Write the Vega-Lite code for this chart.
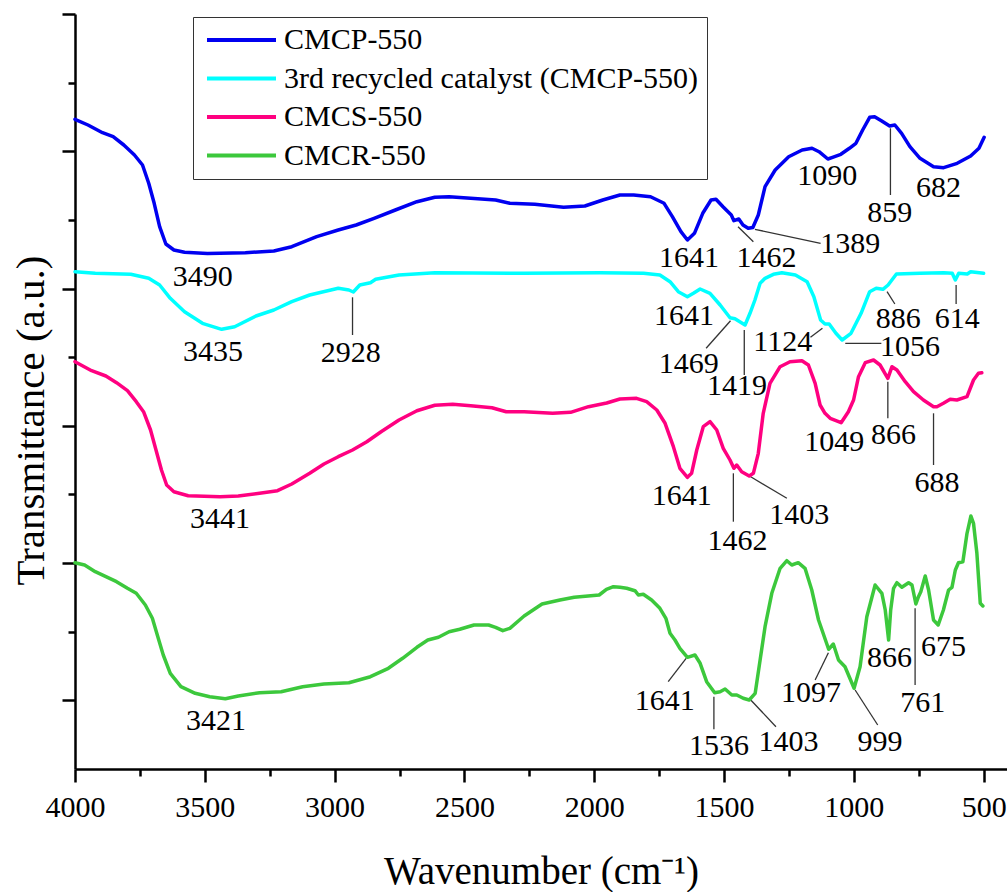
{
  "$schema": "https://vega.github.io/schema/vega-lite/v6.json",
  "width": 932,
  "height": 755,
  "autosize": {"type": "none"},
  "padding": {"left": 75, "top": 14, "right": 0, "bottom": 123},
  "background": "white",
  "config": {"view": {"stroke": null}, "font": "Liberation Serif"},
  "datasets": {
    "spectra": [
      {"sample": "CMCP-550", "wn": 4000, "T": 649.7}, {"sample": "CMCP-550", "wn": 3950, "T": 644}, {"sample": "CMCP-550", "wn": 3894, "T": 636.3}, {"sample": "CMCP-550", "wn": 3853, "T": 632.3}, {"sample": "CMCP-550", "wn": 3812, "T": 624}, {"sample": "CMCP-550", "wn": 3771, "T": 614}, {"sample": "CMCP-550", "wn": 3740, "T": 604}, {"sample": "CMCP-550", "wn": 3716, "T": 585.7}, {"sample": "CMCP-550", "wn": 3695, "T": 565.7}, {"sample": "CMCP-550", "wn": 3674, "T": 542.3}, {"sample": "CMCP-550", "wn": 3650, "T": 525}, {"sample": "CMCP-550", "wn": 3619, "T": 519}, {"sample": "CMCP-550", "wn": 3578, "T": 516.7}, {"sample": "CMCP-550", "wn": 3490, "T": 515.5}, {"sample": "CMCP-550", "wn": 3344, "T": 516.3}, {"sample": "CMCP-550", "wn": 3234, "T": 518}, {"sample": "CMCP-550", "wn": 3165, "T": 522.3}, {"sample": "CMCP-550", "wn": 3069, "T": 532.3}, {"sample": "CMCP-550", "wn": 2986, "T": 539}, {"sample": "CMCP-550", "wn": 2917, "T": 544}, {"sample": "CMCP-550", "wn": 2848, "T": 550.7}, {"sample": "CMCP-550", "wn": 2766, "T": 559}, {"sample": "CMCP-550", "wn": 2683, "T": 567.3}, {"sample": "CMCP-550", "wn": 2614, "T": 571.7}, {"sample": "CMCP-550", "wn": 2559, "T": 572.3}, {"sample": "CMCP-550", "wn": 2476, "T": 570.7}, {"sample": "CMCP-550", "wn": 2380, "T": 569}, {"sample": "CMCP-550", "wn": 2325, "T": 565.7}, {"sample": "CMCP-550", "wn": 2229, "T": 564.7}, {"sample": "CMCP-550", "wn": 2118, "T": 561.7}, {"sample": "CMCP-550", "wn": 2036, "T": 563}, {"sample": "CMCP-550", "wn": 1967, "T": 569}, {"sample": "CMCP-550", "wn": 1901, "T": 574}, {"sample": "CMCP-550", "wn": 1848, "T": 574}, {"sample": "CMCP-550", "wn": 1783, "T": 572.3}, {"sample": "CMCP-550", "wn": 1731, "T": 565.7}, {"sample": "CMCP-550", "wn": 1699, "T": 552.3}, {"sample": "CMCP-550", "wn": 1666, "T": 537.3}, {"sample": "CMCP-550", "wn": 1641, "T": 529}, {"sample": "CMCP-550", "wn": 1614, "T": 535.7}, {"sample": "CMCP-550", "wn": 1582, "T": 555.7}, {"sample": "CMCP-550", "wn": 1550, "T": 569}, {"sample": "CMCP-550", "wn": 1531, "T": 569.7}, {"sample": "CMCP-550", "wn": 1504, "T": 562.3}, {"sample": "CMCP-550", "wn": 1472, "T": 554}, {"sample": "CMCP-550", "wn": 1462, "T": 548.3}, {"sample": "CMCP-550", "wn": 1443, "T": 550}, {"sample": "CMCP-550", "wn": 1427, "T": 544}, {"sample": "CMCP-550", "wn": 1407, "T": 540.7}, {"sample": "CMCP-550", "wn": 1389, "T": 541.5}, {"sample": "CMCP-550", "wn": 1368, "T": 554}, {"sample": "CMCP-550", "wn": 1342, "T": 582.3}, {"sample": "CMCP-550", "wn": 1303, "T": 599}, {"sample": "CMCP-550", "wn": 1251, "T": 612.3}, {"sample": "CMCP-550", "wn": 1199, "T": 619}, {"sample": "CMCP-550", "wn": 1161, "T": 620.7}, {"sample": "CMCP-550", "wn": 1134, "T": 617.3}, {"sample": "CMCP-550", "wn": 1100, "T": 610}, {"sample": "CMCP-550", "wn": 1082, "T": 611.7}, {"sample": "CMCP-550", "wn": 1050, "T": 614.7}, {"sample": "CMCP-550", "wn": 1017, "T": 620.7}, {"sample": "CMCP-550", "wn": 992, "T": 625.7}, {"sample": "CMCP-550", "wn": 966, "T": 639}, {"sample": "CMCP-550", "wn": 939, "T": 651.7}, {"sample": "CMCP-550", "wn": 920, "T": 652.3}, {"sample": "CMCP-550", "wn": 894, "T": 648.3}, {"sample": "CMCP-550", "wn": 862, "T": 643}, {"sample": "CMCP-550", "wn": 842, "T": 644}, {"sample": "CMCP-550", "wn": 816, "T": 635.7}, {"sample": "CMCP-550", "wn": 784, "T": 622.3}, {"sample": "CMCP-550", "wn": 745, "T": 610.7}, {"sample": "CMCP-550", "wn": 693, "T": 602.3}, {"sample": "CMCP-550", "wn": 654, "T": 601.3}, {"sample": "CMCP-550", "wn": 602, "T": 605.7}, {"sample": "CMCP-550", "wn": 550, "T": 613}, {"sample": "CMCP-550", "wn": 518, "T": 620.7}, {"sample": "CMCP-550", "wn": 498, "T": 631.7},

      {"sample": "3rd recycled catalyst (CMCP-550)", "wn": 4000, "T": 497.3}, {"sample": "3rd recycled catalyst (CMCP-550)", "wn": 3922, "T": 495.7}, {"sample": "3rd recycled catalyst (CMCP-550)", "wn": 3785, "T": 494.7}, {"sample": "3rd recycled catalyst (CMCP-550)", "wn": 3716, "T": 490.7}, {"sample": "3rd recycled catalyst (CMCP-550)", "wn": 3674, "T": 484}, {"sample": "3rd recycled catalyst (CMCP-550)", "wn": 3633, "T": 470.7}, {"sample": "3rd recycled catalyst (CMCP-550)", "wn": 3578, "T": 457.3}, {"sample": "3rd recycled catalyst (CMCP-550)", "wn": 3509, "T": 445.7}, {"sample": "3rd recycled catalyst (CMCP-550)", "wn": 3435, "T": 439.7}, {"sample": "3rd recycled catalyst (CMCP-550)", "wn": 3385, "T": 442.3}, {"sample": "3rd recycled catalyst (CMCP-550)", "wn": 3303, "T": 453}, {"sample": "3rd recycled catalyst (CMCP-550)", "wn": 3234, "T": 459}, {"sample": "3rd recycled catalyst (CMCP-550)", "wn": 3165, "T": 467.3}, {"sample": "3rd recycled catalyst (CMCP-550)", "wn": 3096, "T": 474}, {"sample": "3rd recycled catalyst (CMCP-550)", "wn": 2986, "T": 480.7}, {"sample": "3rd recycled catalyst (CMCP-550)", "wn": 2945, "T": 479}, {"sample": "3rd recycled catalyst (CMCP-550)", "wn": 2928, "T": 477}, {"sample": "3rd recycled catalyst (CMCP-550)", "wn": 2903, "T": 484}, {"sample": "3rd recycled catalyst (CMCP-550)", "wn": 2862, "T": 486.3}, {"sample": "3rd recycled catalyst (CMCP-550)", "wn": 2842, "T": 489.7}, {"sample": "3rd recycled catalyst (CMCP-550)", "wn": 2752, "T": 494}, {"sample": "3rd recycled catalyst (CMCP-550)", "wn": 2614, "T": 496.3}, {"sample": "3rd recycled catalyst (CMCP-550)", "wn": 2270, "T": 495.7}, {"sample": "3rd recycled catalyst (CMCP-550)", "wn": 1978, "T": 496.3}, {"sample": "3rd recycled catalyst (CMCP-550)", "wn": 1810, "T": 495.7}, {"sample": "3rd recycled catalyst (CMCP-550)", "wn": 1747, "T": 494}, {"sample": "3rd recycled catalyst (CMCP-550)", "wn": 1708, "T": 487.3}, {"sample": "3rd recycled catalyst (CMCP-550)", "wn": 1676, "T": 477.3}, {"sample": "3rd recycled catalyst (CMCP-550)", "wn": 1641, "T": 472.3}, {"sample": "3rd recycled catalyst (CMCP-550)", "wn": 1618, "T": 475.7}, {"sample": "3rd recycled catalyst (CMCP-550)", "wn": 1592, "T": 480}, {"sample": "3rd recycled catalyst (CMCP-550)", "wn": 1554, "T": 475.7}, {"sample": "3rd recycled catalyst (CMCP-550)", "wn": 1515, "T": 464}, {"sample": "3rd recycled catalyst (CMCP-550)", "wn": 1477, "T": 451.3}, {"sample": "3rd recycled catalyst (CMCP-550)", "wn": 1458, "T": 450.3}, {"sample": "3rd recycled catalyst (CMCP-550)", "wn": 1419, "T": 444}, {"sample": "3rd recycled catalyst (CMCP-550)", "wn": 1400, "T": 455.7}, {"sample": "3rd recycled catalyst (CMCP-550)", "wn": 1381, "T": 469}, {"sample": "3rd recycled catalyst (CMCP-550)", "wn": 1361, "T": 485.7}, {"sample": "3rd recycled catalyst (CMCP-550)", "wn": 1342, "T": 490.7}, {"sample": "3rd recycled catalyst (CMCP-550)", "wn": 1310, "T": 494.7}, {"sample": "3rd recycled catalyst (CMCP-550)", "wn": 1277, "T": 496.3}, {"sample": "3rd recycled catalyst (CMCP-550)", "wn": 1225, "T": 494}, {"sample": "3rd recycled catalyst (CMCP-550)", "wn": 1180, "T": 487.3}, {"sample": "3rd recycled catalyst (CMCP-550)", "wn": 1154, "T": 472.3}, {"sample": "3rd recycled catalyst (CMCP-550)", "wn": 1128, "T": 449}, {"sample": "3rd recycled catalyst (CMCP-550)", "wn": 1111, "T": 445}, {"sample": "3rd recycled catalyst (CMCP-550)", "wn": 1095, "T": 445}, {"sample": "3rd recycled catalyst (CMCP-550)", "wn": 1069, "T": 435.7}, {"sample": "3rd recycled catalyst (CMCP-550)", "wn": 1045, "T": 429}, {"sample": "3rd recycled catalyst (CMCP-550)", "wn": 1011, "T": 435.7}, {"sample": "3rd recycled catalyst (CMCP-550)", "wn": 972, "T": 455.7}, {"sample": "3rd recycled catalyst (CMCP-550)", "wn": 939, "T": 477.3}, {"sample": "3rd recycled catalyst (CMCP-550)", "wn": 914, "T": 480.7}, {"sample": "3rd recycled catalyst (CMCP-550)", "wn": 888, "T": 479.7}, {"sample": "3rd recycled catalyst (CMCP-550)", "wn": 868, "T": 484}, {"sample": "3rd recycled catalyst (CMCP-550)", "wn": 836, "T": 495}, {"sample": "3rd recycled catalyst (CMCP-550)", "wn": 745, "T": 495.7}, {"sample": "3rd recycled catalyst (CMCP-550)", "wn": 654, "T": 496.3}, {"sample": "3rd recycled catalyst (CMCP-550)", "wn": 621, "T": 495.7}, {"sample": "3rd recycled catalyst (CMCP-550)", "wn": 609, "T": 489}, {"sample": "3rd recycled catalyst (CMCP-550)", "wn": 596, "T": 495.7}, {"sample": "3rd recycled catalyst (CMCP-550)", "wn": 563, "T": 495}, {"sample": "3rd recycled catalyst (CMCP-550)", "wn": 550, "T": 497.3}, {"sample": "3rd recycled catalyst (CMCP-550)", "wn": 500, "T": 495.7},

      {"sample": "CMCS-550", "wn": 4000, "T": 407.3}, {"sample": "CMCS-550", "wn": 3936, "T": 398.3}, {"sample": "CMCS-550", "wn": 3881, "T": 393}, {"sample": "CMCS-550", "wn": 3840, "T": 386.3}, {"sample": "CMCS-550", "wn": 3798, "T": 378.3}, {"sample": "CMCS-550", "wn": 3764, "T": 367.3}, {"sample": "CMCS-550", "wn": 3736, "T": 357.3}, {"sample": "CMCS-550", "wn": 3709, "T": 339}, {"sample": "CMCS-550", "wn": 3688, "T": 319}, {"sample": "CMCS-550", "wn": 3667, "T": 299}, {"sample": "CMCS-550", "wn": 3647, "T": 284}, {"sample": "CMCS-550", "wn": 3619, "T": 277.3}, {"sample": "CMCS-550", "wn": 3564, "T": 273.3}, {"sample": "CMCS-550", "wn": 3441, "T": 272.3}, {"sample": "CMCS-550", "wn": 3371, "T": 273}, {"sample": "CMCS-550", "wn": 3289, "T": 275.7}, {"sample": "CMCS-550", "wn": 3220, "T": 278.3}, {"sample": "CMCS-550", "wn": 3165, "T": 285}, {"sample": "CMCS-550", "wn": 3096, "T": 295.7}, {"sample": "CMCS-550", "wn": 3041, "T": 305}, {"sample": "CMCS-550", "wn": 2986, "T": 312.3}, {"sample": "CMCS-550", "wn": 2931, "T": 319}, {"sample": "CMCS-550", "wn": 2876, "T": 327.3}, {"sample": "CMCS-550", "wn": 2821, "T": 337.3}, {"sample": "CMCS-550", "wn": 2752, "T": 349}, {"sample": "CMCS-550", "wn": 2683, "T": 358.3}, {"sample": "CMCS-550", "wn": 2614, "T": 363.7}, {"sample": "CMCS-550", "wn": 2545, "T": 364.7}, {"sample": "CMCS-550", "wn": 2476, "T": 363.3}, {"sample": "CMCS-550", "wn": 2394, "T": 361.3}, {"sample": "CMCS-550", "wn": 2339, "T": 357.3}, {"sample": "CMCS-550", "wn": 2270, "T": 357.3}, {"sample": "CMCS-550", "wn": 2160, "T": 355.7}, {"sample": "CMCS-550", "wn": 2091, "T": 356.7}, {"sample": "CMCS-550", "wn": 2022, "T": 362.3}, {"sample": "CMCS-550", "wn": 1952, "T": 366}, {"sample": "CMCS-550", "wn": 1901, "T": 370}, {"sample": "CMCS-550", "wn": 1837, "T": 370.7}, {"sample": "CMCS-550", "wn": 1798, "T": 367.3}, {"sample": "CMCS-550", "wn": 1759, "T": 359}, {"sample": "CMCS-550", "wn": 1727, "T": 345.7}, {"sample": "CMCS-550", "wn": 1695, "T": 322.3}, {"sample": "CMCS-550", "wn": 1670, "T": 300.7}, {"sample": "CMCS-550", "wn": 1641, "T": 291.7}, {"sample": "CMCS-550", "wn": 1625, "T": 295.7}, {"sample": "CMCS-550", "wn": 1605, "T": 319}, {"sample": "CMCS-550", "wn": 1580, "T": 342.3}, {"sample": "CMCS-550", "wn": 1554, "T": 347.3}, {"sample": "CMCS-550", "wn": 1528, "T": 339}, {"sample": "CMCS-550", "wn": 1503, "T": 320.7}, {"sample": "CMCS-550", "wn": 1477, "T": 309}, {"sample": "CMCS-550", "wn": 1462, "T": 300.7}, {"sample": "CMCS-550", "wn": 1451, "T": 304}, {"sample": "CMCS-550", "wn": 1432, "T": 297.3}, {"sample": "CMCS-550", "wn": 1403, "T": 293}, {"sample": "CMCS-550", "wn": 1387, "T": 295.7}, {"sample": "CMCS-550", "wn": 1368, "T": 315.7}, {"sample": "CMCS-550", "wn": 1349, "T": 355.7}, {"sample": "CMCS-550", "wn": 1323, "T": 385.7}, {"sample": "CMCS-550", "wn": 1284, "T": 402.3}, {"sample": "CMCS-550", "wn": 1246, "T": 407.3}, {"sample": "CMCS-550", "wn": 1200, "T": 408.3}, {"sample": "CMCS-550", "wn": 1175, "T": 404}, {"sample": "CMCS-550", "wn": 1149, "T": 385.7}, {"sample": "CMCS-550", "wn": 1130, "T": 364}, {"sample": "CMCS-550", "wn": 1111, "T": 355.7}, {"sample": "CMCS-550", "wn": 1091, "T": 350.7}, {"sample": "CMCS-550", "wn": 1049, "T": 346.3}, {"sample": "CMCS-550", "wn": 1021, "T": 357.3}, {"sample": "CMCS-550", "wn": 1001, "T": 369}, {"sample": "CMCS-550", "wn": 982, "T": 392.3}, {"sample": "CMCS-550", "wn": 956, "T": 406.3}, {"sample": "CMCS-550", "wn": 924, "T": 409}, {"sample": "CMCS-550", "wn": 899, "T": 404}, {"sample": "CMCS-550", "wn": 869, "T": 390.7}, {"sample": "CMCS-550", "wn": 853, "T": 402.3}, {"sample": "CMCS-550", "wn": 834, "T": 399}, {"sample": "CMCS-550", "wn": 802, "T": 387.3}, {"sample": "CMCS-550", "wn": 770, "T": 377.3}, {"sample": "CMCS-550", "wn": 732, "T": 369}, {"sample": "CMCS-550", "wn": 693, "T": 362.3}, {"sample": "CMCS-550", "wn": 680, "T": 362.3}, {"sample": "CMCS-550", "wn": 655, "T": 365.7}, {"sample": "CMCS-550", "wn": 629, "T": 369.7}, {"sample": "CMCS-550", "wn": 603, "T": 369}, {"sample": "CMCS-550", "wn": 564, "T": 372.3}, {"sample": "CMCS-550", "wn": 539, "T": 389}, {"sample": "CMCS-550", "wn": 520, "T": 395.7}, {"sample": "CMCS-550", "wn": 507, "T": 396.3},

      {"sample": "CMCR-550", "wn": 4000, "T": 206.3}, {"sample": "CMCR-550", "wn": 3963, "T": 204}, {"sample": "CMCR-550", "wn": 3922, "T": 197.3}, {"sample": "CMCR-550", "wn": 3881, "T": 192.3}, {"sample": "CMCR-550", "wn": 3840, "T": 187.3}, {"sample": "CMCR-550", "wn": 3798, "T": 180.7}, {"sample": "CMCR-550", "wn": 3764, "T": 175.7}, {"sample": "CMCR-550", "wn": 3729, "T": 164}, {"sample": "CMCR-550", "wn": 3702, "T": 150.7}, {"sample": "CMCR-550", "wn": 3681, "T": 132.3}, {"sample": "CMCR-550", "wn": 3660, "T": 114}, {"sample": "CMCR-550", "wn": 3633, "T": 95.7}, {"sample": "CMCR-550", "wn": 3592, "T": 82.3}, {"sample": "CMCR-550", "wn": 3537, "T": 75.7}, {"sample": "CMCR-550", "wn": 3481, "T": 72.3}, {"sample": "CMCR-550", "wn": 3421, "T": 70.3}, {"sample": "CMCR-550", "wn": 3371, "T": 73}, {"sample": "CMCR-550", "wn": 3289, "T": 76.3}, {"sample": "CMCR-550", "wn": 3206, "T": 77.3}, {"sample": "CMCR-550", "wn": 3123, "T": 82.3}, {"sample": "CMCR-550", "wn": 3041, "T": 85}, {"sample": "CMCR-550", "wn": 2945, "T": 86.3}, {"sample": "CMCR-550", "wn": 2862, "T": 92.3}, {"sample": "CMCR-550", "wn": 2793, "T": 100.7}, {"sample": "CMCR-550", "wn": 2738, "T": 110.7}, {"sample": "CMCR-550", "wn": 2683, "T": 121.7}, {"sample": "CMCR-550", "wn": 2641, "T": 129}, {"sample": "CMCR-550", "wn": 2600, "T": 131.7}, {"sample": "CMCR-550", "wn": 2559, "T": 137.3}, {"sample": "CMCR-550", "wn": 2518, "T": 139.7}, {"sample": "CMCR-550", "wn": 2463, "T": 144}, {"sample": "CMCR-550", "wn": 2407, "T": 144}, {"sample": "CMCR-550", "wn": 2380, "T": 141.7}, {"sample": "CMCR-550", "wn": 2352, "T": 138.3}, {"sample": "CMCR-550", "wn": 2325, "T": 140.7}, {"sample": "CMCR-550", "wn": 2270, "T": 153}, {"sample": "CMCR-550", "wn": 2201, "T": 165}, {"sample": "CMCR-550", "wn": 2132, "T": 169}, {"sample": "CMCR-550", "wn": 2077, "T": 171.7}, {"sample": "CMCR-550", "wn": 1981, "T": 174}, {"sample": "CMCR-550", "wn": 1953, "T": 179.7}, {"sample": "CMCR-550", "wn": 1926, "T": 182.3}, {"sample": "CMCR-550", "wn": 1901, "T": 181.7}, {"sample": "CMCR-550", "wn": 1875, "T": 180.7}, {"sample": "CMCR-550", "wn": 1843, "T": 178.3}, {"sample": "CMCR-550", "wn": 1830, "T": 174}, {"sample": "CMCR-550", "wn": 1811, "T": 174.7}, {"sample": "CMCR-550", "wn": 1779, "T": 169}, {"sample": "CMCR-550", "wn": 1747, "T": 160.7}, {"sample": "CMCR-550", "wn": 1724, "T": 150.7}, {"sample": "CMCR-550", "wn": 1708, "T": 135.7}, {"sample": "CMCR-550", "wn": 1689, "T": 129}, {"sample": "CMCR-550", "wn": 1670, "T": 120.7}, {"sample": "CMCR-550", "wn": 1641, "T": 111.7}, {"sample": "CMCR-550", "wn": 1612, "T": 114}, {"sample": "CMCR-550", "wn": 1592, "T": 105.7}, {"sample": "CMCR-550", "wn": 1567, "T": 87.3}, {"sample": "CMCR-550", "wn": 1536, "T": 76.3}, {"sample": "CMCR-550", "wn": 1515, "T": 77.3}, {"sample": "CMCR-550", "wn": 1496, "T": 80}, {"sample": "CMCR-550", "wn": 1470, "T": 74}, {"sample": "CMCR-550", "wn": 1451, "T": 74}, {"sample": "CMCR-550", "wn": 1426, "T": 70.7}, {"sample": "CMCR-550", "wn": 1403, "T": 69}, {"sample": "CMCR-550", "wn": 1380, "T": 75.7}, {"sample": "CMCR-550", "wn": 1361, "T": 109}, {"sample": "CMCR-550", "wn": 1342, "T": 142.3}, {"sample": "CMCR-550", "wn": 1316, "T": 175.7}, {"sample": "CMCR-550", "wn": 1284, "T": 200.7}, {"sample": "CMCR-550", "wn": 1258, "T": 208.3}, {"sample": "CMCR-550", "wn": 1239, "T": 204}, {"sample": "CMCR-550", "wn": 1214, "T": 206.3}, {"sample": "CMCR-550", "wn": 1188, "T": 200.7}, {"sample": "CMCR-550", "wn": 1162, "T": 179}, {"sample": "CMCR-550", "wn": 1136, "T": 149}, {"sample": "CMCR-550", "wn": 1097, "T": 119.7}, {"sample": "CMCR-550", "wn": 1079, "T": 125}, {"sample": "CMCR-550", "wn": 1059, "T": 109}, {"sample": "CMCR-550", "wn": 1034, "T": 102.3}, {"sample": "CMCR-550", "wn": 999, "T": 80.7}, {"sample": "CMCR-550", "wn": 976, "T": 102.3}, {"sample": "CMCR-550", "wn": 950, "T": 152.3}, {"sample": "CMCR-550", "wn": 918, "T": 184}, {"sample": "CMCR-550", "wn": 892, "T": 175.7}, {"sample": "CMCR-550", "wn": 879, "T": 159}, {"sample": "CMCR-550", "wn": 866, "T": 129}, {"sample": "CMCR-550", "wn": 858, "T": 159}, {"sample": "CMCR-550", "wn": 847, "T": 180.7}, {"sample": "CMCR-550", "wn": 834, "T": 186.3}, {"sample": "CMCR-550", "wn": 815, "T": 181.7}, {"sample": "CMCR-550", "wn": 789, "T": 186.3}, {"sample": "CMCR-550", "wn": 776, "T": 184}, {"sample": "CMCR-550", "wn": 761, "T": 165}, {"sample": "CMCR-550", "wn": 751, "T": 172.3}, {"sample": "CMCR-550", "wn": 742, "T": 177.3}, {"sample": "CMCR-550", "wn": 725, "T": 193}, {"sample": "CMCR-550", "wn": 712, "T": 179}, {"sample": "CMCR-550", "wn": 693, "T": 149}, {"sample": "CMCR-550", "wn": 675, "T": 144}, {"sample": "CMCR-550", "wn": 655, "T": 159}, {"sample": "CMCR-550", "wn": 635, "T": 179}, {"sample": "CMCR-550", "wn": 622, "T": 181.7}, {"sample": "CMCR-550", "wn": 609, "T": 199}, {"sample": "CMCR-550", "wn": 597, "T": 206.3}, {"sample": "CMCR-550", "wn": 580, "T": 207.3}, {"sample": "CMCR-550", "wn": 564, "T": 235.7}, {"sample": "CMCR-550", "wn": 549, "T": 253}, {"sample": "CMCR-550", "wn": 539, "T": 245.7}, {"sample": "CMCR-550", "wn": 526, "T": 215.7}, {"sample": "CMCR-550", "wn": 513, "T": 165.7}, {"sample": "CMCR-550", "wn": 503, "T": 163}
    ],
    "peaks": [
      {"label": "3490", "wn": 3508, "T": 492}, {"label": "1641", "wn": 1635, "T": 511.5}, {"label": "1462", "wn": 1336, "T": 511.5}, {"label": "1389", "wn": 1014, "T": 525}, {"label": "1090", "wn": 1102, "T": 593}, {"label": "859", "wn": 862, "T": 556.5}, {"label": "682", "wn": 674, "T": 581.5},
      {"label": "3435", "wn": 3468, "T": 417}, {"label": "2928", "wn": 2938, "T": 416}, {"label": "1641", "wn": 1654, "T": 453}, {"label": "1469", "wn": 1636, "T": 405}, {"label": "1419", "wn": 1450, "T": 383}, {"label": "1124", "wn": 1274, "T": 427.3}, {"label": "1056", "wn": 784, "T": 422.3}, {"label": "886", "wn": 829, "T": 449.8}, {"label": "614", "wn": 602, "T": 449.8},
      {"label": "3441", "wn": 3441, "T": 250}, {"label": "1641", "wn": 1663, "T": 273}, {"label": "1462", "wn": 1448, "T": 228}, {"label": "1403", "wn": 1210, "T": 254}, {"label": "1049", "wn": 1075, "T": 327.3}, {"label": "866", "wn": 847, "T": 334}, {"label": "688", "wn": 680, "T": 286.5},
      {"label": "3421", "wn": 3457, "T": 48.2}, {"label": "1641", "wn": 1728, "T": 68.2}, {"label": "1536", "wn": 1519, "T": 23.2}, {"label": "1403", "wn": 1252, "T": 27.3}, {"label": "1097", "wn": 1165, "T": 76.5}, {"label": "999", "wn": 899, "T": 27.3}, {"label": "866", "wn": 863, "T": 111.5}, {"label": "761", "wn": 735, "T": 66.5}, {"label": "675", "wn": 655, "T": 122.3}
    ],
    "leaders": [
      {"wn": 1446, "T": 542.3, "wn2": 1387, "T2": 527.3}, {"wn": 1381, "T": 539.7, "wn2": 1128, "T2": 525.7}, {"wn": 859, "T": 640.7, "wn2": 859, "T2": 574},
      {"wn": 2931, "T": 471.7, "wn2": 2931, "T2": 434}, {"wn": 1569, "T": 420.7, "wn2": 1475, "T2": 448.3}, {"wn": 1422, "T": 439, "wn2": 1422, "T2": 394}, {"wn": 1167, "T": 431.7, "wn2": 1121, "T2": 440.7}, {"wn": 1033, "T": 425.7, "wn2": 894, "T2": 425.7}, {"wn": 872, "T": 477.3, "wn2": 842, "T2": 465}, {"wn": 606, "T": 484, "wn2": 606, "T2": 465},
      {"wn": 1464, "T": 295.7, "wn2": 1464, "T2": 247.3}, {"wn": 1402, "T": 293, "wn2": 1258, "T2": 270.7}, {"wn": 869, "T": 387.3, "wn2": 869, "T2": 350.7}, {"wn": 693, "T": 355.7, "wn2": 693, "T2": 304},
      {"wn": 1715, "T": 87.3, "wn2": 1646, "T2": 110.7}, {"wn": 1539, "T": 72.3, "wn2": 1539, "T2": 39.7}, {"wn": 1397, "T": 69, "wn2": 1300, "T2": 42.3}, {"wn": 1149, "T": 89, "wn2": 1098, "T2": 116.3}, {"wn": 995, "T": 79, "wn2": 908, "T2": 44}, {"wn": 764, "T": 160.7, "wn2": 764, "T2": 84}
    ]
  },
  "layer": [
    {
      "data": {"name": "leaders"},
      "mark": {"type": "rule", "color": "#333333", "strokeWidth": 1.3},
      "encoding": {
        "x": {"field": "wn", "type": "quantitative", "scale": {"domain": [410, 4000], "reverse": true, "nice": false, "zero": false}},
        "x2": {"field": "wn2"},
        "y": {"field": "T", "type": "quantitative", "scale": {"domain": [0, 755], "nice": false, "zero": false}},
        "y2": {"field": "T2"}
      }
    },
    {
      "data": {"name": "spectra"},
      "mark": {"type": "line", "strokeWidth": 3.5, "strokeJoin": "round", "strokeCap": "round"},
      "encoding": {
        "x": {
          "field": "wn", "type": "quantitative",
          "scale": {"domain": [410, 4000], "reverse": true, "nice": false, "zero": false},
          "axis": {
            "values": [4000, 3750, 3500, 3250, 3000, 2750, 2500, 2250, 2000, 1750, 1500, 1250, 1000, 750, 500],
            "format": "d",
            "labelExpr": "datum.value % 500 === 0 ? datum.label : ''",
            "tickSize": {"condition": {"test": "datum.value % 500 === 0", "value": 13}, "value": 7},
            "tickWidth": 2.5, "tickColor": "black",
            "domainWidth": 2.5, "domainColor": "black",
            "grid": false,
            "labelFont": "Liberation Serif", "labelFontSize": 30, "labelColor": "black",
            "labelPadding": 10, "labelFlush": false, "labelOverlap": false,
            "title": "Wavenumber (cm⁻¹)",
            "titleFont": "Liberation Serif", "titleFontSize": 39, "titleFontWeight": "normal", "titleColor": "black",
            "titleBaseline": "alphabetic", "titleY": 114
          }
        },
        "y": {
          "field": "T", "type": "quantitative",
          "scale": {"domain": [0, 755], "nice": false, "zero": false},
          "axis": {
            "values": [68.64, 137.27, 205.91, 274.55, 343.18, 411.82, 480.45, 549.09, 617.73, 686.36, 755],
            "labels": false,
            "tickSize": {"condition": {"test": "round(datum.value / 68.64) % 2 === 1", "value": 13}, "value": 7},
            "tickWidth": 2.5, "tickColor": "black",
            "domainWidth": 2.5, "domainColor": "black",
            "grid": false,
            "title": "Transmittance (a.u.)",
            "titleFont": "Liberation Serif", "titleFontSize": 41, "titleFontWeight": "normal", "titleColor": "black",
            "titleAngle": -90, "titleBaseline": "alphabetic", "titleAlign": "center",
            "titleX": -32, "titleY": 406
          }
        },
        "color": {
          "field": "sample", "type": "nominal",
          "scale": {
            "domain": ["CMCP-550", "3rd recycled catalyst (CMCP-550)", "CMCS-550", "CMCR-550"],
            "range": ["#0000F0", "#00FFFF", "#FF0080", "#3CC83C"]
          },
          "legend": {
            "orient": "none", "legendX": 118, "legendY": 3,
            "title": null,
            "strokeColor": "#333333", "fillColor": "white",
            "padding": 8, "clipHeight": 30,
            "symbolType": "stroke", "symbolSize": 4761, "symbolStrokeWidth": 4, "symbolOffset": 4,
            "labelFont": "Liberation Serif", "labelFontSize": 30, "labelColor": "black",
            "labelOffset": 6, "labelLimit": 600, "rowPadding": 8.5
          }
        }
      }
    },
    {
      "data": {"name": "peaks"},
      "mark": {"type": "text", "font": "Liberation Serif", "fontSize": 30, "color": "black", "align": "center", "baseline": "middle"},
      "encoding": {
        "x": {"field": "wn", "type": "quantitative"},
        "y": {"field": "T", "type": "quantitative"},
        "text": {"field": "label"}
      }
    }
  ]
}
